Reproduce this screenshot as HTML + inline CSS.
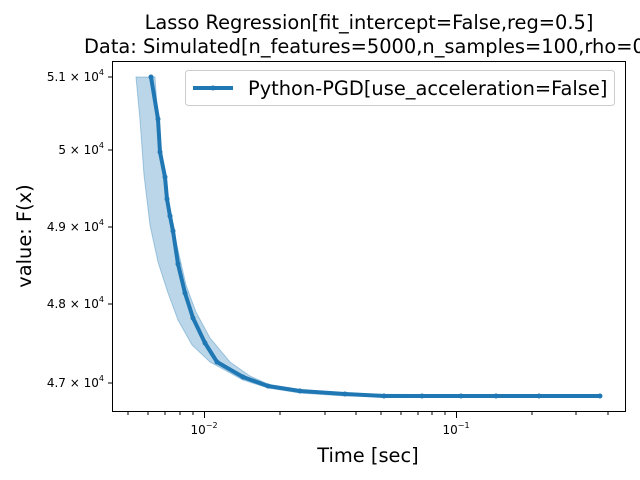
<!DOCTYPE html>
<html><head><style>
body{margin:0;background:#fff;width:640px;height:480px;overflow:hidden}
svg{display:block}
text{font-family:"DejaVu Sans","Liberation Sans",sans-serif;fill:#000}
</style></head><body>
<svg width="640" height="480" xmlns="http://www.w3.org/2000/svg">
<text x="369" y="29" font-size="19.4" text-anchor="middle">Lasso Regression[fit_intercept=False,reg=0.5]</text>
<text x="84" y="53" font-size="19.4">Data: Simulated[n_features=5000,n_samples=100,rho=0.5]</text>
<polygon fill="#1f77b4" fill-opacity="0.3" stroke="#1f77b4" stroke-opacity="0.35" points="136,77 155,77 158,120 161,150 166,185 170,215 178,250 186,285 196,312 210,338 230,362 250,376 270,385 300,390 345,394 600,396 600,397 345,396 300,393 268,388 243,380 210,362 192,345 178,320 168,293 158,262 150,225 144,175 140,120"/>
<polyline fill="none" stroke="#1f77b4" stroke-width="4" stroke-linejoin="round" points="151,77 158,119 160,152 165,177 167,199 170,216 173,231 178,264 185,293 193,318 205,343 217,362 243,377 268,386 300,391 345,394 384,396 422,396 461,396 496,396 539,396 600,396"/>
<g fill="#1f77b4">
<circle cx="151" cy="77" r="2.5"/><circle cx="158" cy="119" r="2.5"/><circle cx="160" cy="152" r="2.5"/><circle cx="165" cy="177" r="2.5"/><circle cx="167" cy="199" r="2.5"/><circle cx="170" cy="216" r="2.5"/><circle cx="173" cy="231" r="2.5"/><circle cx="178" cy="264" r="2.5"/><circle cx="185" cy="293" r="2.5"/><circle cx="193" cy="318" r="2.5"/><circle cx="205" cy="343" r="2.5"/><circle cx="217" cy="362" r="2.5"/><circle cx="243" cy="377" r="2.5"/><circle cx="268" cy="386" r="2.5"/><circle cx="300" cy="391" r="2.5"/><circle cx="345" cy="394" r="2.5"/><circle cx="384" cy="396" r="2.5"/><circle cx="422" cy="396" r="2.5"/><circle cx="461" cy="396" r="2.5"/><circle cx="496" cy="396" r="2.5"/><circle cx="539" cy="396" r="2.5"/><circle cx="600" cy="396" r="2.5"/>
</g>
<rect x="112.5" y="61.5" width="513" height="350" fill="none" stroke="#000" stroke-width="1"/>
<g stroke="#000">
<line x1="108" y1="77" x2="112" y2="77"/><line x1="108" y1="150" x2="112" y2="150"/><line x1="108" y1="227" x2="112" y2="227"/><line x1="108" y1="304" x2="112" y2="304"/><line x1="108" y1="383" x2="112" y2="383"/>
<line x1="204.5" y1="412" x2="204.5" y2="418"/><line x1="456.5" y1="412" x2="456.5" y2="418"/>
<line x1="128" y1="412" x2="128" y2="415"/><line x1="148" y1="412" x2="148" y2="415"/><line x1="165" y1="412" x2="165" y2="415"/><line x1="180" y1="412" x2="180" y2="415"/><line x1="193" y1="412" x2="193" y2="415"/>
<line x1="280" y1="412" x2="280" y2="415"/><line x1="325" y1="412" x2="325" y2="415"/><line x1="356" y1="412" x2="356" y2="415"/><line x1="381" y1="412" x2="381" y2="415"/><line x1="401" y1="412" x2="401" y2="415"/><line x1="418" y1="412" x2="418" y2="415"/><line x1="432" y1="412" x2="432" y2="415"/><line x1="445" y1="412" x2="445" y2="415"/>
<line x1="532" y1="412" x2="532" y2="415"/><line x1="576" y1="412" x2="576" y2="415"/><line x1="608" y1="412" x2="608" y2="415"/>
</g>
<g font-size="12" text-anchor="end">
<text x="104" y="81">5.1 × 10<tspan font-size="8" dy="-6">4</tspan></text>
<text x="104" y="154">5 × 10<tspan font-size="8" dy="-6">4</tspan></text>
<text x="104" y="231">4.9 × 10<tspan font-size="8" dy="-6">4</tspan></text>
<text x="104" y="308">4.8 × 10<tspan font-size="8" dy="-6">4</tspan></text>
<text x="104" y="387">4.7 × 10<tspan font-size="8" dy="-6">4</tspan></text>
</g>
<g font-size="12" text-anchor="middle">
<text x="204" y="434">10<tspan font-size="8" dy="-6">−2</tspan></text>
<text x="456" y="434">10<tspan font-size="8" dy="-6">−1</tspan></text>
</g>
<text x="368" y="462" font-size="19.4" text-anchor="middle">Time [sec]</text>
<text transform="translate(31,236) rotate(-90)" font-size="19.4" text-anchor="middle">value: F(x)</text>
<rect x="185.5" y="70.5" width="429" height="35" rx="3" fill="#fff" fill-opacity="0.8" stroke="#ccc"/>
<line x1="193" y1="88" x2="233" y2="88" stroke="#1f77b4" stroke-width="4"/>
<circle cx="213" cy="88" r="2.5" fill="#1f77b4"/>
<text x="248" y="95" font-size="19.4">Python-PGD[use_acceleration=False]</text>
</svg>
</body></html>
